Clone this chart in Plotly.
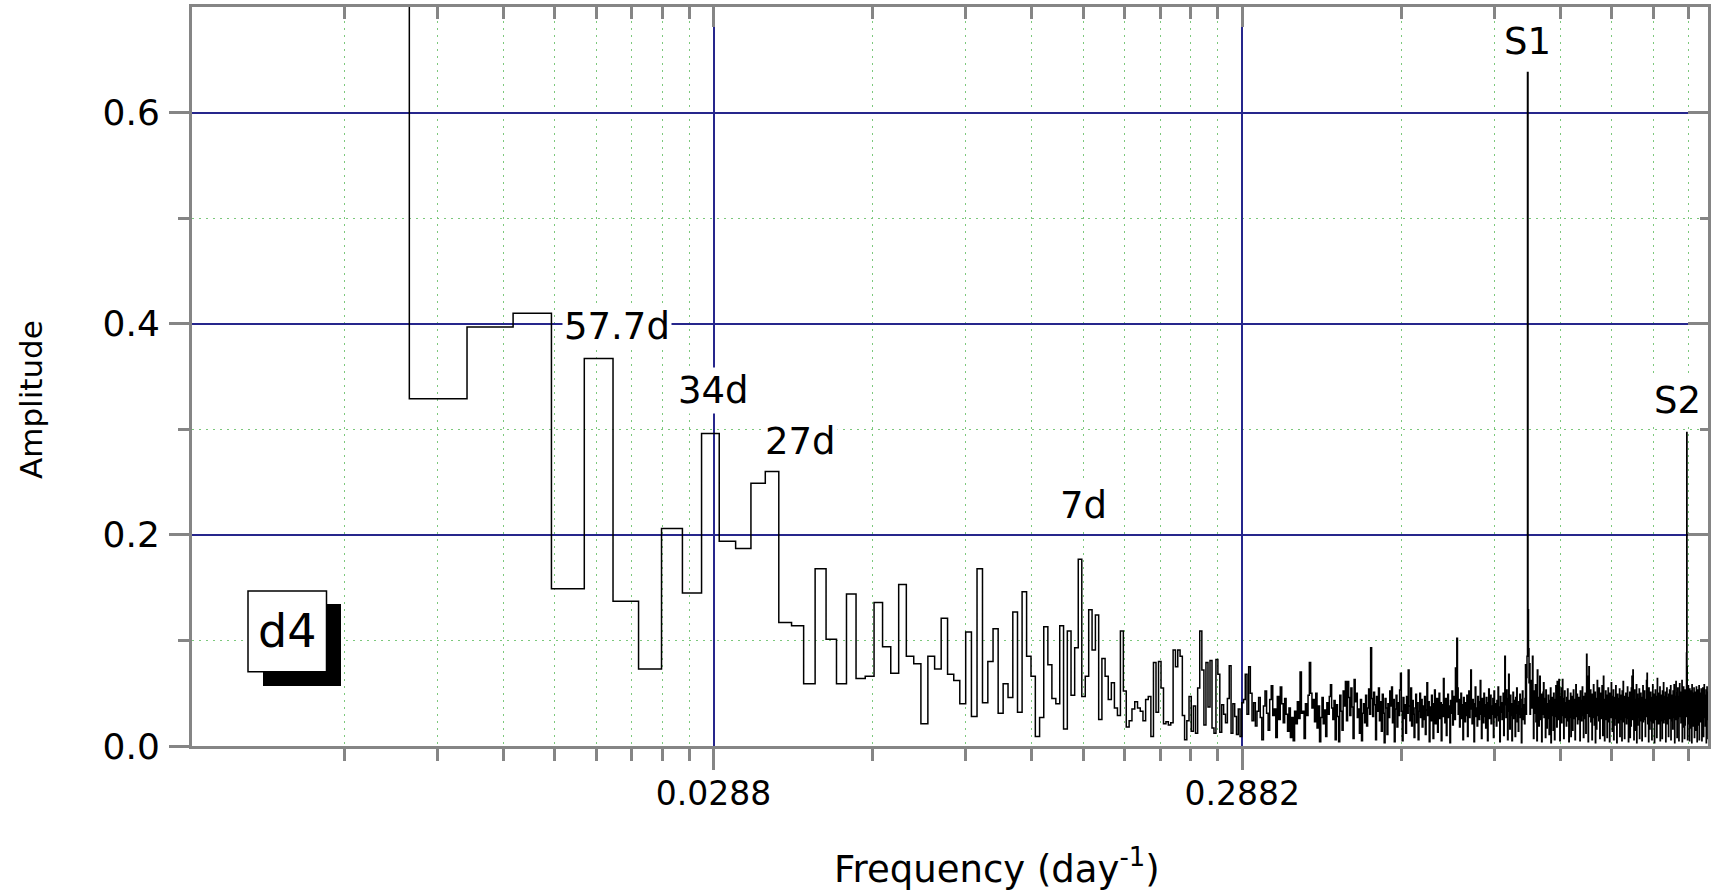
import numpy as np
import plotly.graph_objects as go

# ---------------- data ----------------
DF = 1 / 457.0          # frequency resolution of the spectrum (day^-1)
FIRST_BIN = 2           # index of the first frequency bin listed below
# amplitude of each frequency bin, in thousandths (bins 2 .. 1005)
AMP_MILLI = [
    1200, 850, 329, 397, 410, 149, 367, 137,
    73, 206, 145, 296, 194, 187, 249, 260, 117, 114,
    59, 168, 101, 59, 144, 64, 66, 136, 94, 69,
    153, 85, 78, 21, 85, 73, 121, 68, 62, 40,
    108, 28, 168, 41, 80, 111, 31, 59, 46, 127,
    32, 146, 85, 66, 9, 27, 113, 77, 45, 40,
    114, 16, 109, 48, 93, 177, 47, 66, 129, 91,
    124, 25, 83, 66, 44, 60, 36, 29, 109, 52,
    18, 24, 35, 42, 36, 33, 24, 44, 47, 9,
    79, 32, 80, 55, 21, 23, 20, 22, 91, 75,
    91, 85, 29, 6, 24, 47, 14, 38, 12, 55,
    109, 72, 20, 79, 37, 81, 17, 12, 82, 68,
    13, 39, 30, 22, 45, 76, 12, 40, 28, 11,
    35, 9, 41, 44, 68, 30, 75, 50, 24, 41,
    19, 33, 46, 27, 6, 38, 52, 31, 15, 44,
    57, 29, 35, 8, 47, 25, 56, 40, 22, 45,
    30, 14, 36, 8, 27, 5, 33, 21, 42, 26,
    70, 31, 33, 7, 40, 29, 48, 79, 50, 36,
    44, 23, 50, 17, 38, 4, 27, 46, 21, 34,
    9, 41, 30, 47, 58, 36, 25, 43, 6, 39,
    28, 4, 48, 33, 15, 52, 38, 61, 24, 61,
    46, 29, 55, 37, 7, 63, 42, 50, 27, 35,
    12, 44, 5, 31, 40, 22, 48, 19, 36, 54,
    30, 93, 45, 28, 51, 39, 6, 47, 33, 55,
    24, 42, 14, 49, 31, 3, 45, 36, 11, 40,
    27, 52, 38, 56, 22, 44, 4, 35, 48, 18,
    41, 29, 53, 69, 33, 5, 46, 26, 39, 12,
    47, 31, 72, 38, 24, 55, 19, 43, 30, 8,
    36, 49, 22, 41, 6, 33, 50, 27, 44, 18,
    38, 25, 47, 11, 34, 60, 29, 42, 4, 37,
    24, 48, 31, 7, 40, 53, 21, 35, 45, 13,
    32, 50, 26, 41, 5, 39, 28, 64, 36, 22,
    45, 10, 34, 49, 27, 38, 3, 43, 31, 52,
    20, 37, 47, 25, 74, 42, 102, 55, 30, 44,
    18, 35, 50, 26, 39, 6, 46, 33, 23, 41,
    29, 48, 9, 37, 52, 27, 43, 72, 35, 21,
    44, 31, 4, 40, 56, 28, 36, 19, 47, 33,
    25, 42, 62, 30, 7, 45, 37, 22, 50, 28,
    39, 17, 46, 33, 5, 41, 54, 26, 35, 48,
    21, 38, 30, 45, 8, 52, 27, 40, 34, 19,
    43, 29, 56, 24, 37, 4, 47, 32, 41, 25,
    36, 50, 10, 44, 85, 39, 27, 53, 30, 6,
    45, 68, 33, 16, 48, 29, 40, 5, 37, 51,
    26, 43, 34, 9, 46, 31, 55, 23, 38, 14,
    42, 30, 49, 27, 35, 3, 44, 52, 25, 39,
    33, 21, 45, 77, 30, 65, 85, 638, 129, 92,
    60, 78, 30, 55, 41, 62, 36, 85, 48, 7,
    44, 52, 31, 58, 23, 40, 5, 72, 29, 46,
    19, 38, 66, 33, 25, 49, 4, 42, 30, 51,
    60, 27, 36, 45, 8, 53, 31, 17, 40, 34,
    48, 26, 11, 43, 37, 55, 3, 32, 46, 29,
    39, 15, 50, 34, 6, 44, 28, 57, 36, 18,
    61, 31, 42, 25, 63, 38, 5, 47, 33, 55,
    22, 40, 63, 29, 45, 7, 36, 52, 27, 41,
    33, 19, 46, 30, 54, 24, 38, 4, 43, 35,
    27, 50, 9, 41, 31, 47, 15, 37, 53, 26,
    44, 32, 6, 39, 58, 28, 35, 49, 21, 42,
    30, 46, 25, 38, 5, 52, 33, 43, 24, 36,
    56, 29, 41, 8, 47, 34, 26, 50, 39, 12,
    45, 87, 31, 66, 37, 4, 48, 75, 28, 40,
    35, 53, 23, 44, 30, 6, 49, 36, 27, 58,
    41, 20, 37, 51, 3, 45, 33, 16, 42, 62,
    29, 38, 47, 24, 55, 31, 7, 43, 36, 50,
    26, 40, 57, 32, 10, 46, 66, 28, 39, 5,
    44, 34, 52, 25, 37, 48, 8, 41, 30, 55,
    23, 36, 45, 4, 50, 33, 27, 42, 60, 29,
    38, 14, 47, 31, 53, 6, 40, 35, 20, 46,
    32, 57, 26, 43, 3, 39, 49, 28, 36, 22,
    45, 30, 54, 9, 41, 34, 25, 48, 37, 5,
    52, 29, 40, 61, 23, 44, 33, 7, 47, 35,
    27, 50, 38, 21, 43, 31, 56, 26, 39, 4,
    46, 34, 24, 51, 8, 42, 37, 19, 55, 30,
    66, 40, 25, 72, 33, 47, 6, 38, 53, 28,
    36, 15, 44, 31, 58, 3, 41, 49, 20, 35,
    45, 27, 39, 54, 7, 43, 32, 24, 50, 37,
    29, 46, 5, 41, 34, 57, 23, 38, 47, 30,
    52, 25, 40, 9, 44, 36, 28, 62, 33, 69,
    48, 21, 37, 45, 4, 55, 26, 42, 16, 39,
    34, 51, 24, 46, 31, 6, 43, 37, 58, 27,
    40, 22, 49, 33, 3, 45, 36, 53, 25, 41,
    30, 47, 8, 38, 64, 28, 44, 35, 21, 50,
    33, 42, 26, 56, 5, 39, 48, 31, 24, 45,
    37, 7, 52, 29, 43, 34, 60, 22, 40, 31,
    47, 25, 36, 51, 4, 44, 32, 27, 55, 38,
    21, 46, 33, 41, 9, 49, 28, 39, 53, 26,
    43, 35, 57, 6, 38, 30, 48, 24, 45, 31,
    16, 52, 37, 42, 27, 58, 34, 3, 47, 39,
    29, 44, 61, 25, 36, 50, 8, 41, 33, 55,
    26, 47, 38, 5, 43, 32, 59, 28, 40, 35,
    51, 22, 45, 30, 37, 62, 4, 48, 34, 18,
    41, 56, 27, 39, 46, 7, 53, 20, 44, 36,
    28, 50, 42, 88, 297, 75, 33, 6, 47, 38,
    57, 21, 40, 34, 49, 5, 54, 17, 43, 31,
    37, 52, 24, 45, 3, 58, 26, 41, 35, 50,
    19, 44, 30, 55, 38, 8, 47, 36, 27, 51,
    42, 15, 39, 56, 31, 46, 4, 34, 53, 29,
    40, 48, 20, 37, 57, 6, 43, 26, 50, 35,
    23, 45, 38, 54, 28, 41, 5, 49, 33, 44,
    55, 30, 39, 9, 47, 36, 58, 27, 42, 34,
    48, 19, 45, 31, 53, 3, 25, 43, 56, 29,
    40, 33, 51, 7, 46, 37,
]

X_MAJOR = [0.02882, 0.2882]
X_MAJOR_TEXT = ["0.0288", "0.2882"]
X_DECADES = [0.002882, 0.02882, 0.2882]
X_MINOR_MULT = [2, 3, 4, 5, 6, 7, 8, 9]
Y_MAJOR = [0.0, 0.2, 0.4, 0.6]
Y_MINOR = [0.1, 0.3, 0.5]
X_RANGE_LOG = [-2.527, 0.341]
Y_RANGE = [0.0, 0.70]

PEAK_LABELS = ["57.7d", "34d", "27d", "7d", "S1", "S2"]
PANEL_LABEL = "d4"
X_TITLE = "Frequency (day<sup>-1</sup>)"
Y_TITLE = "Amplitude"

# ---------------- geometry / style ----------------
W, H = 1721, 890
ML, MR, MT, MB = 192, 13, 7, 144
PW, PH = W - ML - MR, H - MT - MB
FONT = "DejaVu Sans"
GRAY = "#858585"
BLUE = "#26268c"
GREEN = "#7cc87c"


def px(x):
    return (x - ML) / PW


def py(y):
    return (H - MB - y) / PH


amp = np.array(AMP_MILLI, dtype=float) / 1000.0
bins = FIRST_BIN + np.arange(len(amp))
freq = bins * DF
x_steps = np.append(freq - DF / 2, freq[-1] + DF / 2)
y_steps = np.append(amp, amp[-1])

x_minor = [d * k for d in X_DECADES for k in X_MINOR_MULT if d * k < 10 ** X_RANGE_LOG[1]]

fig = go.Figure()
fig.add_trace(go.Scatter(
    x=x_steps, y=y_steps, mode="lines",
    line=dict(color="black", width=1.5, shape="hv", simplify=False),
    hoverinfo="skip", showlegend=False,
))
# empty trace so that the mirrored (top / right) frame axes are created
fig.add_trace(go.Scatter(x=[], y=[], xaxis="x2", yaxis="y2", mode="lines",
                         hoverinfo="skip", showlegend=False))

minor_grid = dict(showgrid=True, gridcolor=GREEN, gridwidth=1, griddash="2px,5px")

fig.update_layout(
    width=W, height=H, autosize=False,
    margin=dict(l=ML, r=MR, t=MT, b=MB, pad=0),
    paper_bgcolor="white", plot_bgcolor="white",
    showlegend=False,
    xaxis=dict(
        type="log", range=X_RANGE_LOG,
        tickmode="array", tickvals=X_MAJOR, ticktext=X_MAJOR_TEXT,
        ticks="outside", ticklen=21, tickwidth=3, tickcolor=GRAY,
        ticklabelstandoff=-5,
        showline=True, linecolor=GRAY, linewidth=3,
        showgrid=True, gridcolor=BLUE, gridwidth=1.5, zeroline=False,
        tickfont=dict(family=FONT, size=33, color="black"),
        minor=dict(tickmode="array", tickvals=x_minor, ticks="outside", ticklen=12,
                   tickwidth=3, tickcolor=GRAY, **minor_grid),
    ),
    yaxis=dict(
        range=Y_RANGE, tickmode="array", tickvals=Y_MAJOR, tickformat=".1f",
        ticks="outside", ticklen=20, tickwidth=3, tickcolor=GRAY,
        ticklabelstandoff=2,
        showline=True, linecolor=GRAY, linewidth=3,
        showgrid=True, gridcolor=BLUE, gridwidth=1.5, zeroline=False,
        tickfont=dict(family=FONT, size=36, color="black"),
        minor=dict(tickmode="array", tickvals=Y_MINOR, ticks="outside", ticklen=11,
                   tickwidth=3, tickcolor=GRAY, **minor_grid),
    ),
    xaxis2=dict(
        type="log", range=X_RANGE_LOG, overlaying="x", side="top", anchor="y2",
        tickmode="array", tickvals=X_MAJOR,
        ticks="inside", ticklen=20, tickwidth=3,
        tickcolor=GRAY, showticklabels=False,
        showline=True, linecolor=GRAY, linewidth=3, showgrid=False, zeroline=False,
        minor=dict(tickmode="array", tickvals=x_minor, ticks="inside", ticklen=12,
                   tickwidth=3, tickcolor=GRAY, showgrid=False),
    ),
    yaxis2=dict(
        range=Y_RANGE, overlaying="y", side="right", anchor="x2",
        tickmode="array", tickvals=Y_MAJOR, ticks="inside", ticklen=20, tickwidth=3,
        tickcolor=GRAY, showticklabels=False,
        showline=True, linecolor=GRAY, linewidth=3, showgrid=False, zeroline=False,
        minor=dict(tickmode="array", tickvals=Y_MINOR, ticks="inside", ticklen=8,
                   tickwidth=3, tickcolor=GRAY, showgrid=False),
    ),
)

# axis titles
fig.add_annotation(x=px(997), y=py(866), xref="paper", yref="paper", text=X_TITLE,
                   showarrow=False, font=dict(family=FONT, size=37, color="black"),
                   xanchor="center", yanchor="middle")
fig.add_annotation(x=px(31), y=py(400), xref="paper", yref="paper", text=Y_TITLE,
                   textangle=-90, showarrow=False,
                   font=dict(family=FONT, size=31, color="black"),
                   xanchor="center", yanchor="middle")

# peak labels
label_px = [(617, 327), (713, 390), (800, 442), (1083, 505), (1527, 42), (1677, 400)]
for text, (lx, ly) in zip(PEAK_LABELS, label_px):
    fig.add_annotation(x=px(lx), y=py(ly), xref="paper", yref="paper", text=text,
                       showarrow=False, bgcolor="white", borderpad=1,
                       font=dict(family=FONT, size=37, color="black"),
                       xanchor="center", yanchor="middle")

# panel label box with drop shadow
fig.add_shape(type="rect", xref="paper", yref="paper",
              x0=px(263), x1=px(341), y0=py(686), y1=py(604),
              fillcolor="black", line=dict(width=0), layer="above")
fig.add_shape(type="rect", xref="paper", yref="paper",
              x0=px(248), x1=px(326.5), y0=py(671.7), y1=py(591),
              fillcolor="white", line=dict(color="black", width=1.5), layer="above")
fig.add_annotation(x=px(287), y=py(631), xref="paper", yref="paper", text=PANEL_LABEL,
                   showarrow=False, font=dict(family=FONT, size=46, color="black"),
                   xanchor="center", yanchor="middle")

fig.write_html("out.html")
